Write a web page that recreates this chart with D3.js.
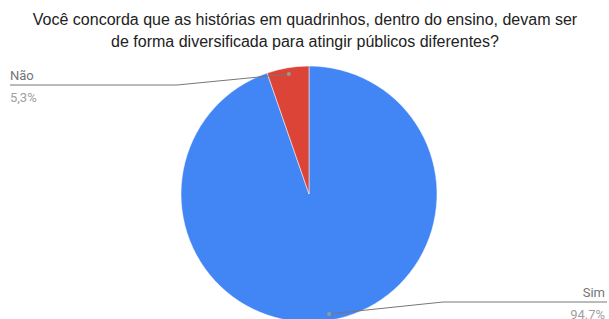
<!DOCTYPE html>
<html>
<head>
<meta charset="utf-8">
<script src="https://cdn.jsdelivr.net/npm/d3@7"></script>
<style>
  body { margin: 0; background: #fff; }
  svg { display: block; }
</style>
</head>
<body>
<svg id="chart" width="609" height="319"></svg>
<script>
/////// Data ///////

var categories = ["Sim", "Não"];
var values = [94.7, 5.3];
var pctLabels = ["94.7%", "5,3%"];
var colors = ["#4285f4", "#db4437"];
var titleLines = [
  "Você concorda que as histórias em quadrinhos, dentro do ensino, devam ser",
  "de forma diversificada para atingir públicos diferentes?"
];

/////// Setup ///////

var svg = d3.select("#chart"),
    width = +svg.attr("width"),
    height = +svg.attr("height");

var cx = 309, cy = 194, radius = 128;

svg.append("g")
  .selectAll("text")
  .data(titleLines)
  .enter().append("text")
  .attr("x", 305)
  .attr("y", function(d, i) { return 25 + i * 22; })
  .attr("text-anchor", "middle")
  .attr("font-family", "Liberation Sans, Arial, sans-serif")
  .attr("font-size", "16px")
  .attr("fill", "#222")
  .text(function(d) { return d; });

/////// Pie ///////

var pie = d3.pie().sort(null).value(function(d) { return d; });
var arcs = pie(values);

var arc = d3.arc().innerRadius(0).outerRadius(radius);
var dotArc = d3.arc().innerRadius(radius * 0.95).outerRadius(radius * 0.95);

var g = svg.append("g").attr("transform", "translate(" + cx + "," + cy + ")");

g.selectAll("path")
  .data(arcs)
  .enter().append("path")
  .attr("d", arc)
  .attr("fill", function(d, i) { return colors[i]; })
  .attr("stroke", "#fff")
  .attr("stroke-width", 0.5);

/////// Labels with leader lines ///////

// elbow point and end of horizontal line, per slice
var elbows = [[443, 302], [177, 85]];
var ends = [607, 10];

arcs.forEach(function(d, i) {
  var c = dotArc.centroid(d);
  var p = [cx + c[0], cy + c[1]];
  svg.append("polyline")
    .attr("points", [p, elbows[i], [ends[i], elbows[i][1]]].map(function(q) { return q.join(","); }).join(" "))
    .attr("fill", "none")
    .attr("stroke", "#777")
    .attr("stroke-width", 1);
  svg.append("circle")
    .attr("cx", p[0]).attr("cy", p[1]).attr("r", 2)
    .attr("fill", "#999");

  var right = ends[i] > cx;
  var tx = right ? ends[i] - 2 : ends[i];
  svg.append("text")
    .attr("x", tx).attr("y", elbows[i][1] - 5)
    .attr("text-anchor", right ? "end" : "start")
    .attr("font-family", "Roboto, sans-serif")
    .attr("font-size", "13px")
    .attr("fill", "#757575")
    .text(categories[i]);
  svg.append("text")
    .attr("x", tx).attr("y", elbows[i][1] + 17)
    .attr("text-anchor", right ? "end" : "start")
    .attr("font-family", "Roboto, sans-serif")
    .attr("font-size", "13px")
    .attr("fill", "#a0a0a0")
    .text(pctLabels[i]);
});
</script>
</body>
</html>
